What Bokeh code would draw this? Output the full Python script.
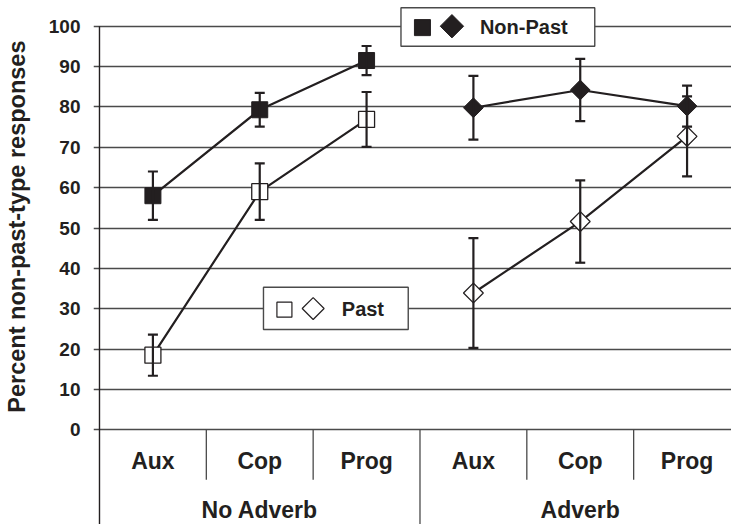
import numpy as np
from bokeh.plotting import figure
from bokeh.models import Range1d, FixedTicker, ColumnDataSource, Whisker, TeeHead
from bokeh.core.properties import value
from bokeh.embed import file_html
from bokeh.resources import INLINE

# ---- data ----
conditions = ["Aux", "Cop", "Prog", "Aux", "Cop", "Prog"]
groups = ["No Adverb", "Adverb"]
y_ticks = [0, 10, 20, 30, 40, 50, 60, 70, 80, 90, 100]

nonpast_noadv = [58.0, 79.3, 91.5]
nonpast_noadv_err = [6.0, 4.2, 3.6]
past_noadv = [18.5, 59.0, 76.9]
past_noadv_err = [5.1, 7.0, 6.8]
nonpast_adv = [79.8, 84.2, 80.2]
nonpast_adv_err = [7.9, 7.7, 5.1]
past_adv = [33.9, 51.6, 72.7]
past_adv_err = [13.6, 10.2, 9.9]

y_title = "Percent non-past-type responses"
legend_nonpast = "Non-Past"
legend_past = "Past"

# ---- layout constants ----
INK = "#231f20"
GRID = "#4a4a4a"
FONT = "Liberation Sans"
PX = 107.0  # pixels per category
Y0, Y1 = -23.46, 106.37
TITLE_PAD = "\u00a0" * 11  # shifts the centred axis title up onto the 0-100 span

x_all = np.arange(len(conditions)) + 0.5
x_noadv = x_all[:3]
x_adv = x_all[3:]

p = figure(width=731, height=524,
           x_range=Range1d(-6 / PX, 633 / PX), y_range=Range1d(Y0, Y1),
           output_backend="svg", toolbar_location=None, x_axis_location=None,
           min_border_left=92, min_border_right=0, min_border_top=0, min_border_bottom=0)
p.outline_line_color = None
p.background_fill_color = "white"
p.border_fill_color = "white"
p.xgrid.visible = False
p.ygrid.ticker = FixedTicker(ticks=y_ticks)
p.ygrid.grid_line_color = GRID
p.ygrid.grid_line_width = 1.4

ax = p.yaxis[0]
ax.ticker = FixedTicker(ticks=y_ticks)
ax.axis_line_color = None
ax.major_tick_line_color = None
ax.minor_tick_line_color = None
ax.major_tick_out = 0
ax.major_tick_in = 0
ax.major_label_standoff = 13
ax.major_label_text_font = FONT
ax.major_label_text_font_style = "bold"
ax.major_label_text_font_size = "19px"
ax.major_label_text_color = INK
ax.axis_label = TITLE_PAD + y_title
ax.axis_label_standoff = 16
ax.axis_label_text_font = FONT
ax.axis_label_text_font_style = "bold"
ax.axis_label_text_font_size = "23.5px"
ax.axis_label_text_color = INK

# axis line and category separators
p.segment(x0=[0], y0=[100], x1=[0], y1=[Y0], line_color=INK, line_width=1.4)
p.segment(x0=[1, 2, 4, 5], y0=[0] * 4, x1=[1, 2, 4, 5], y1=[-12.4] * 4,
          line_color=GRID, line_width=1.3)
p.segment(x0=[3], y0=[0], x1=[3], y1=[Y0], line_color=GRID, line_width=1.3)

# category labels
p.text(x=list(x_all), y=[-7.85] * 6, text=conditions, text_align="center",
       text_baseline="middle", text_font=value(FONT), text_font_style="bold",
       text_font_size="23px", text_color=INK)
p.text(x=[1.5, 4.5], y=[-19.9, -19.9], text=groups, text_align="center",
       text_baseline="middle", text_font=value(FONT), text_font_style="bold",
       text_font_size="23px", text_color=INK)

# series lines
for xs, ys in [(x_noadv, nonpast_noadv), (x_noadv, past_noadv),
               (x_adv, nonpast_adv), (x_adv, past_adv)]:
    p.line(list(xs), ys, line_color=INK, line_width=2.2)

# error bars
for xs, ys, es in [(x_noadv, nonpast_noadv, nonpast_noadv_err),
                   (x_noadv, past_noadv, past_noadv_err),
                   (x_adv, nonpast_adv, nonpast_adv_err),
                   (x_adv, past_adv, past_adv_err)]:
    ys = np.array(ys); es = np.array(es)
    src = ColumnDataSource(dict(x=list(xs), up=list(ys + es), lo=list(ys - es)))
    w = Whisker(source=src, base="x", upper="up", lower="lo", dimension="height",
                line_color=INK, line_width=2.2, level="glyph",
                upper_head=TeeHead(size=10, line_color=INK, line_width=2.2),
                lower_head=TeeHead(size=10, line_color=INK, line_width=2.2))
    p.add_layout(w)

# markers
p.scatter(list(x_noadv), nonpast_noadv, marker="square", size=16,
          fill_color=INK, line_color=INK, line_width=1)
p.scatter(list(x_noadv), past_noadv, marker="square", size=16,
          fill_color="white", line_color=INK, line_width=1.3)
p.scatter(list(x_adv), nonpast_adv, marker="square", angle=np.pi / 4, size=14,
          fill_color=INK, line_color=INK, line_width=1)
p.scatter(list(x_adv), past_adv, marker="square", angle=np.pi / 4, size=14,
          fill_color="white", line_color=INK, line_width=1.3)

# legend boxes
p.quad(left=[2.822, 1.535], right=[4.636, 2.890], top=[104.56, 35.33],
       bottom=[95.05, 24.85], fill_color="white", line_color=GRID, line_width=1.4)
p.scatter([3.023], [99.65], marker="square", size=16, fill_color=INK, line_color=INK)
p.scatter([3.299], [100.0], marker="square", angle=np.pi / 4, size=16.5,
          fill_color=INK, line_color=INK)
p.scatter([1.731], [29.76], marker="square", size=15, fill_color="white",
          line_color=INK, line_width=1.2)
p.scatter([2.0], [30.05], marker="square", angle=np.pi / 4, size=15.5,
          fill_color="white", line_color=INK, line_width=1.2)
p.text(x=[3.561, 2.268], y=[99.8, 29.9], text=[legend_nonpast, legend_past],
       text_align="left", text_baseline="middle", text_font=value(FONT),
       text_font_style="bold", text_font_size="20px", text_color=INK)

open("out.html", "w").write(file_html(p, INLINE))
